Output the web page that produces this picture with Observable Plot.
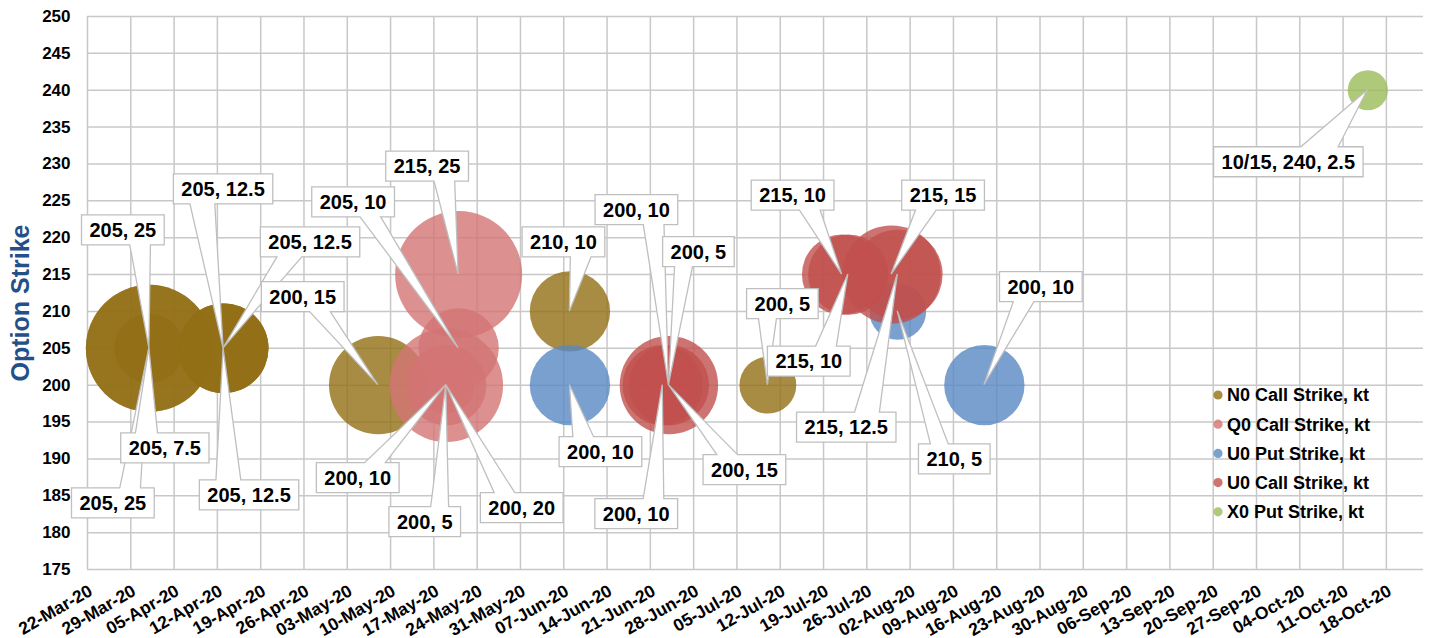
<!DOCTYPE html>
<html>
<head>
<meta charset="utf-8">
<script src="https://cdn.jsdelivr.net/npm/d3@7"></script>
<script src="https://cdn.jsdelivr.net/npm/@observablehq/plot@0.6"></script>
<style>
  html, body { margin: 0; padding: 0; background: #fff; }
  #chart svg { display: block; }
</style>
</head>
<body>
<div id="chart"></div>
<script>
// ---------- data ----------
const seriesNames = ["N0 Call Strike, kt", "Q0 Call Strike, kt", "U0 Put Strike, kt", "U0 Call Strike, kt", "X0 Put Strike, kt"];
const seriesColors = ["#926f15", "#d37474", "#5988c4", "#c0504d", "#9bbb59"];

const n0Dates  = ["2020-04-01", "2020-04-01", "2020-04-01", "2020-04-13", "2020-04-13", "2020-04-13", "2020-05-08", "2020-06-08", "2020-07-10"];
const n0Strike = [205, 205, 205, 205, 205, 205, 200, 210, 200];
const n0Size   = [25, 25, 7.5, 12.5, 12.5, 12.5, 15, 10, 5];

const q0Dates  = ["2020-05-21", "2020-05-21", "2020-05-19", "2020-05-19", "2020-05-19"];
const q0Strike = [215, 205, 200, 200, 200];
const q0Size   = [25, 10, 20, 10, 5];

const u0pDates  = ["2020-06-08", "2020-07-31", "2020-08-14"];
const u0pStrike = [200, 210, 200];
const u0pSize   = [10, 5, 10];

const u0cDates  = ["2020-06-24", "2020-06-23", "2020-06-24", "2020-06-24", "2020-07-22", "2020-07-23", "2020-07-30", "2020-07-31"];
const u0cStrike = [200, 200, 200, 200, 215, 215, 215, 215];
const u0cSize   = [15, 10, 10, 5, 10, 10, 15, 12.5];

const x0Dates  = ["2020-10-15"];
const x0Strike = [240];
const x0Size   = [2.5];

const labelShowsDate = [false, false, false, false, true];

const yTicks = [175, 180, 185, 190, 195, 200, 205, 210, 215, 220, 225, 230, 235, 240, 245, 250];
const xStart = "2020-03-22", xEnd = "2020-10-24";

// ---------- layout (label callout offsets in px from the bubble centre) ----------
const labelOffsets = [
  [[-26, -118], [-36, 155], [16, 100], [0, -159], [87, -106], [26, 147], [-75, -88], [-6, -69], [15, -81]],
  [[-31, -108], [-105, -146], [76, 123], [-88, 93], [-21, 137]],
  [[31, 67], [57, 148], [57, -98]],
  [[76, 85], [-26, 129], [-32, -175], [30, -133], [-49, -79], [-39, 87], [52, -79], [-51, 153]],
  [[-79, 72]]
];

// ---------- build table ----------
const raw = [
  [n0Dates, n0Strike, n0Size],
  [q0Dates, q0Strike, q0Size],
  [u0pDates, u0pStrike, u0pSize],
  [u0cDates, u0cStrike, u0cSize],
  [x0Dates, x0Strike, x0Size]
];
const points = [];
raw.forEach(([ds, ks, ss], si) => {
  ds.forEach((d, i) => points.push({
    series: seriesNames[si], si, i,
    date: new Date(d + "T00:00:00Z"), strike: ks[i], size: ss[i]
  }));
});

const xTicks = d3.utcWeek.range(new Date(xStart + "T00:00:00Z"), new Date(xEnd + "T00:00:00Z"));
const fmtX = d3.utcFormat("%d-%b-%y");
const fmtMD = d3.utcFormat("%m/%d");

const FONT = "Arial, 'Liberation Sans', sans-serif";
const GRID = "#c8c8c8";

const chart = Plot.plot({
  width: 1439,
  height: 638,
  marginLeft: 87,
  marginRight: 16,
  marginTop: 16,
  marginBottom: 69,
  style: { fontFamily: FONT, fontSize: "17px", fontWeight: "bold", background: "#fff", color: "#000", overflow: "visible" },
  x: { type: "utc", domain: [new Date(xStart + "T00:00:00Z"), new Date(xEnd + "T00:00:00Z")], axis: null },
  y: { domain: [175, 250], axis: null },
  r: { type: "sqrt", domain: [0, 25], range: [0, 63.5] },
  color: { domain: seriesNames, range: seriesColors },
  marks: [
    Plot.ruleX(xTicks, { x: d => d, stroke: GRID, strokeWidth: 1.5 }),
    Plot.ruleY(yTicks, { y: d => d, stroke: GRID, strokeWidth: 1.5 }),
    Plot.dot(points, { x: "date", y: "strike", r: "size", fill: "series", fillOpacity: 0.8, stroke: null, sort: null }),
    Plot.text(yTicks, { y: d => d, frameAnchor: "left", dx: -17, textAnchor: "end", text: d => String(d), fontSize: 17, fontWeight: "bold", fill: "#000" }),
    Plot.text(xTicks, { x: d => d, frameAnchor: "bottom", dx: 0, dy: 14, rotate: -30, textAnchor: "end", lineAnchor: "top", text: d => fmtX(d), fontSize: 17.5, fontWeight: "bold", fill: "#000" }),
    Plot.text(["Option Strike"], { frameAnchor: "left", dx: -67, dy: 10, rotate: -90, textAnchor: "middle", lineAnchor: "middle", text: d => d, fontSize: 25, fontWeight: "bold", fill: "#24508a" })
  ]
});
document.getElementById("chart").appendChild(chart);

// ---------- callouts using Plot's scales ----------
const xs = chart.scale("x"), ys = chart.scale("y"), cs = chart.scale("color");
const fx = xs.apply ? (v => xs.apply(v)) : d3.scaleUtc(xs.domain, xs.range);
const fy = ys.apply ? (v => ys.apply(v)) : d3.scaleLinear(ys.domain, ys.range);

const ctx = document.createElement("canvas").getContext("2d");
ctx.font = "bold 20px Arial, 'Liberation Sans', sans-serif";

function calloutPath(l, t, w, h, tx, ty) {
  const r = l + w, b = t + h, hc = l + w / 2, vc = t + h / 2;
  const dx = tx - hc, dy = ty - vc;
  const dq = dx * h / w;
  const vertical = Math.abs(dy) > Math.abs(dq);
  const x1 = l + w * (dx > 0 ? 7 : 2) / 12, x2 = l + w * (dx > 0 ? 10 : 5) / 12;
  const y1 = t + h * (dy > 0 ? 7 : 2) / 12, y2 = t + h * (dy > 0 ? 10 : 5) / 12;
  let p = `M${l},${t}`;
  if (vertical && dy < 0) p += `L${x1},${t}L${tx},${ty}L${x2},${t}`;
  p += `L${r},${t}`;
  if (!vertical && dx > 0) p += `L${r},${y1}L${tx},${ty}L${r},${y2}`;
  p += `L${r},${b}`;
  if (vertical && dy > 0) p += `L${x2},${b}L${tx},${ty}L${x1},${b}`;
  p += `L${l},${b}`;
  if (!vertical && dx < 0) p += `L${l},${y2}L${tx},${ty}L${l},${y1}`;
  return p + "Z";
}

const svg = d3.select(chart);
const g = svg.append("g").attr("class", "callouts");
points.forEach(p => {
  const off = labelOffsets[p.si][p.i];
  const tx = fx(p.date), ty = fy(p.strike);
  const text = (labelShowsDate[p.si] ? fmtMD(p.date) + ", " : "") + `${p.strike}, ${p.size}`;
  const w = ctx.measureText(text).width + 16, h = 30;
  const cx = tx + off[0], cy = ty + off[1];
  const l = cx - w / 2, t = cy - h / 2;
  g.append("path")
    .attr("d", calloutPath(l, t, w, h, tx, ty))
    .attr("fill", "#fff").attr("stroke", "#bfbfbf").attr("stroke-width", 1.3);
  g.append("text")
    .attr("x", cx).attr("y", cy).attr("dy", "0.36em")
    .attr("text-anchor", "middle")
    .attr("font-family", FONT).attr("font-size", 20).attr("font-weight", "bold")
    .attr("fill", "#000").text(text);
});

// ---------- legend (inside plot area, bottom right) ----------
const lg = svg.append("g").attr("class", "legend").attr("text-anchor", "start");
seriesNames.forEach((name, i) => {
  const y = 395 + i * 29.2;
  lg.append("circle").attr("cx", 1218).attr("cy", y).attr("r", 4.6)
    .attr("fill", cs.apply ? cs.apply(name) : seriesColors[i]).attr("fill-opacity", 0.8);
  lg.append("text").attr("x", 1227).attr("y", y).attr("dy", "0.36em")
    .attr("text-anchor", "start")
    .attr("font-family", FONT).attr("font-size", 18).attr("font-weight", "bold")
    .attr("fill", "#000").text(name);
});
</script>
</body>
</html>
